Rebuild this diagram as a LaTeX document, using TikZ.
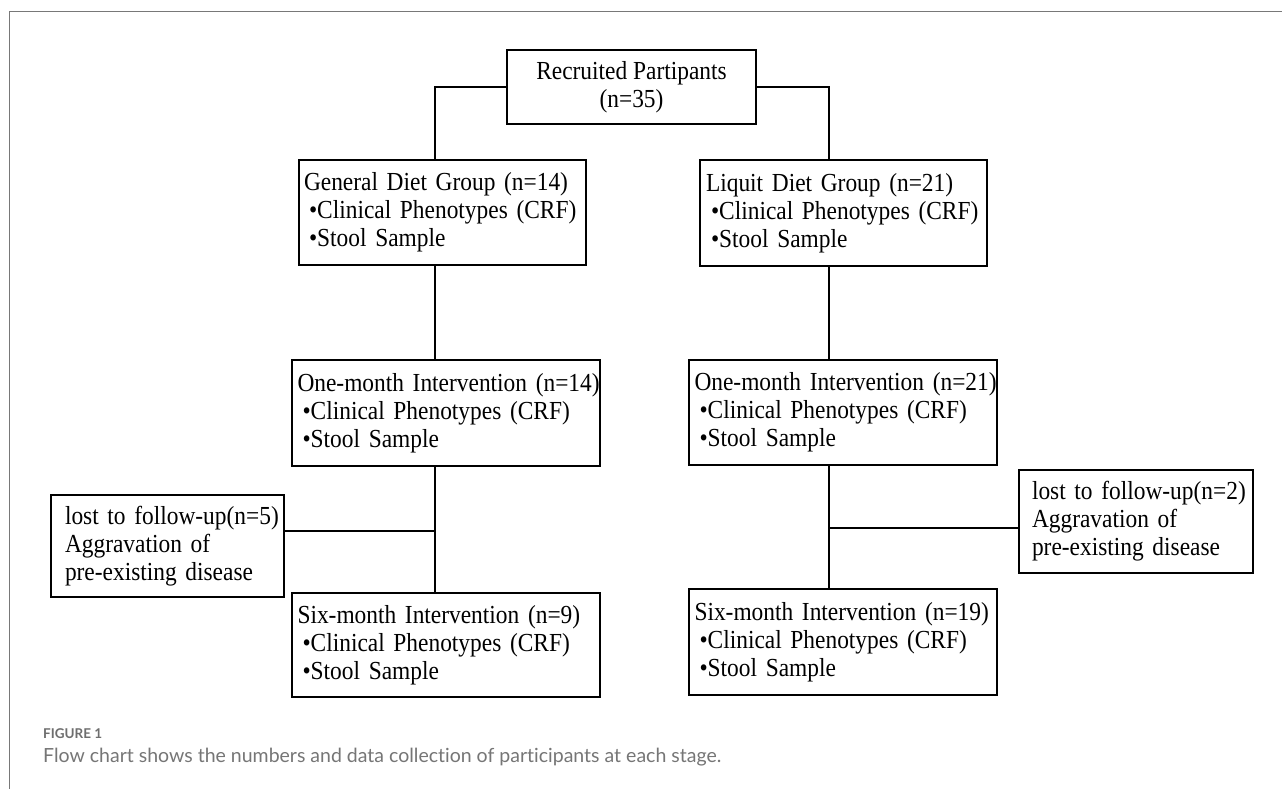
\documentclass[tikz,border=0pt]{standalone}
\usepackage{fontspec}
\setmainfont[FakeStretch=0.9]{Liberation Serif}
\newfontfamily\capfont[Ligatures=NoCommon]{Lato}
\definecolor{framegray}{RGB}{120,120,120}
\definecolor{capgray}{RGB}{118,118,118}
\definecolor{figgray}{RGB}{110,110,110}
\newcommand\bltline[1]{\mbox{\hspace{5pt}•#1}}
\tikzset{
  box/.style={draw, line width=2.7pt, rectangle, inner xsep=0pt, inner ysep=0pt,
    align=left, font=\fontsize{26}{28}\selectfont},
  conn/.style={line width=2.4pt},
  captext/.style={anchor=west, inner sep=0pt},
}
\begin{document}
\begin{tikzpicture}[x=1pt,y=-1pt]
\useasboundingbox (0,0) rectangle (1282,789);
\fill[white] (0,0) rectangle (1282,789);
\draw[framegray, line width=1pt] (1282,12) -- (9,12) -- (9,789);

\node[box, align=center, minimum width=249pt, minimum height=74pt] (rec) at (631.5,87)
  {Recruited Partipants\\(n=35)};

\node[box, minimum width=287pt, minimum height=105pt, text width=277pt] (gen) at (442.5,212.5)
  {\mbox{General Diet Group (n=14)}\\\bltline{Clinical Phenotypes (CRF)}\\\bltline{Stool Sample}};
\node[box, minimum width=287pt, minimum height=106pt, text width=275pt] (liq) at (843.5,213)
  {\mbox{Liquit Diet Group (n=21)}\\\bltline{Clinical Phenotypes (CRF)}\\\bltline{Stool Sample}};

\node[box, minimum width=308pt, minimum height=106pt, text width=297pt] (om1) at (446,413)
  {\mbox{One-month Intervention (n=14)}\\\bltline{Clinical Phenotypes (CRF)}\\\bltline{Stool Sample}};
\node[box, minimum width=308pt, minimum height=105pt, text width=297pt] (om2) at (843,412.5)
  {\mbox{One-month Intervention (n=21)}\\\bltline{Clinical Phenotypes (CRF)}\\\bltline{Stool Sample}};

\node[box, minimum width=233pt, minimum height=102pt, text width=205pt] (lost1) at (167.5,546)
  {\mbox{lost to follow-up(n=5)}\\\mbox{Aggravation of}\\\mbox{pre-existing disease}};
\node[box, minimum width=234pt, minimum height=103pt, text width=208pt] (lost2) at (1136,521.5)
  {\mbox{lost to follow-up(n=2)}\\\mbox{Aggravation of}\\\mbox{pre-existing disease}};

\node[box, minimum width=308pt, minimum height=104pt, text width=297pt] (six1) at (446,645)
  {\mbox{Six-month Intervention (n=9)}\\\bltline{Clinical Phenotypes (CRF)}\\\bltline{Stool Sample}};
\node[box, minimum width=308pt, minimum height=106pt, text width=297pt] (six2) at (843,642)
  {\mbox{Six-month Intervention (n=19)}\\\bltline{Clinical Phenotypes (CRF)}\\\bltline{Stool Sample}};

\coordinate (lcol) at (435,0);
\coordinate (rcol) at (829,0);
\coordinate (j1) at (435,531);
\coordinate (j2) at (829,528);

\draw[conn] (rec.west) -| (lcol |- gen.north);
\draw[conn] (rec.east) -| (rcol |- liq.north);
\draw[conn] (lcol |- gen.south) -- (lcol |- om1.north);
\draw[conn] (rcol |- liq.south) -- (rcol |- om2.north);
\draw[conn] (lcol |- om1.south) -- (lcol |- six1.north);
\draw[conn] (rcol |- om2.south) -- (rcol |- six2.north);
\draw[conn] (lost1.east |- j1) -- (j1);
\draw[conn] (lost2.west |- j2) -- (j2);

\node[captext, text=figgray, font=\capfont\bfseries\fontsize{13.5}{16}\selectfont] (fig) at (43,734) {FIGURE 1};
\node[captext, text=capgray, font=\capfont\fontsize{19.5}{22}\selectfont] (cap) at (43,757)
  {Flow chart shows the numbers and data collection of participants at each stage.};
\end{tikzpicture}
\end{document}
